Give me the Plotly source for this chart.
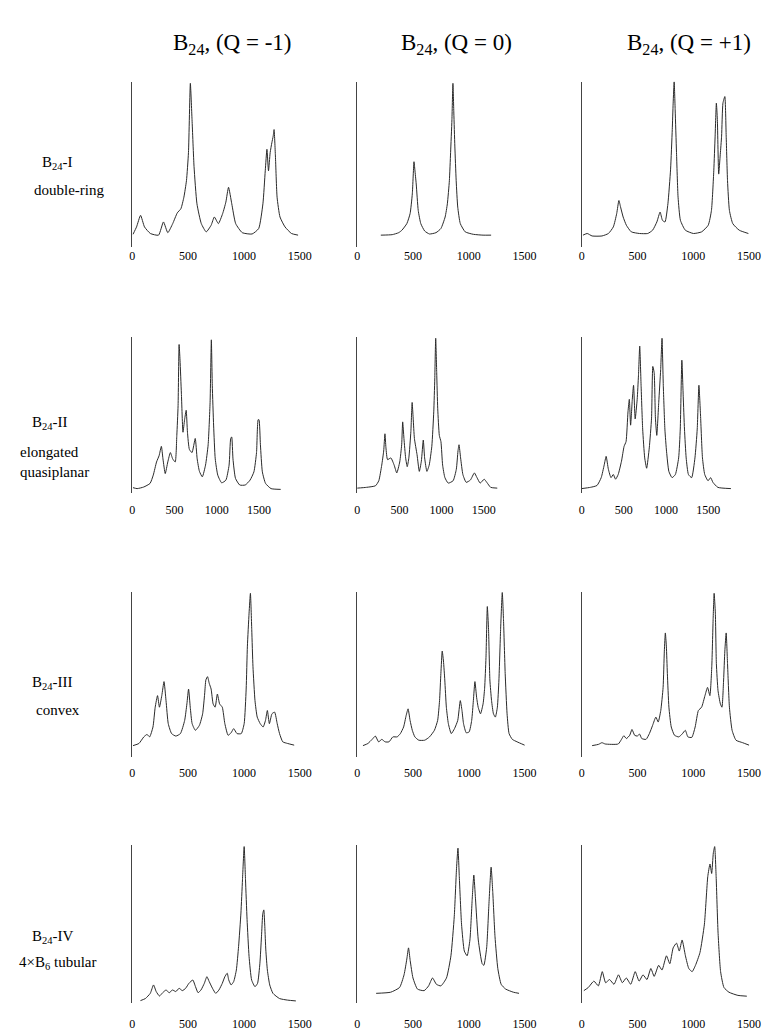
import plotly.graph_objects as go

# ---------------- data (wavenumber, relative intensity) ----------------
r1c1_x = [6, 38, 74, 109, 162, 235, 279, 318, 362, 403, 435, 462, 485, 503, 520, 535, 553, 579, 618, 662, 706, 735, 771, 809, 838, 862, 891, 926, 985, 1073, 1132, 1170, 1191, 1206, 1220, 1235, 1250, 1262, 1270, 1282, 1297, 1323, 1368, 1426, 1485]
r1c1_y = [0.075, 0.12, 0.19, 0.12, 0.08, 0.07, 0.15, 0.085, 0.14, 0.205, 0.23, 0.30, 0.40, 0.57, 0.99, 0.77, 0.485, 0.26, 0.14, 0.09, 0.13, 0.18, 0.14, 0.20, 0.27, 0.36, 0.26, 0.14, 0.085, 0.077, 0.11, 0.26, 0.46, 0.59, 0.46, 0.57, 0.63, 0.67, 0.71, 0.55, 0.30, 0.18, 0.12, 0.08, 0.07]

r1c2_x = [212, 314, 372, 401, 445, 474, 494, 509, 517, 529, 547, 570, 605, 648, 706, 750, 788, 808, 826, 837, 849, 858, 866, 875, 887, 901, 924, 968, 1041, 1128, 1200]
r1c2_y = [0.07, 0.073, 0.085, 0.10, 0.14, 0.20, 0.32, 0.515, 0.465, 0.38, 0.22, 0.14, 0.095, 0.077, 0.085, 0.11, 0.18, 0.26, 0.40, 0.57, 0.77, 0.99, 0.81, 0.61, 0.40, 0.24, 0.14, 0.09, 0.075, 0.07, 0.07]

r1c3_x = [12, 50, 94, 182, 240, 284, 314, 334, 349, 372, 401, 445, 519, 592, 636, 674, 703, 724, 747, 773, 797, 812, 820, 829, 838, 850, 864, 885, 929, 1002, 1075, 1134, 1163, 1184, 1196, 1207, 1216, 1228, 1242, 1254, 1266, 1283, 1295, 1307, 1324, 1354, 1412, 1494]
r1c3_y = [0.07, 0.08, 0.065, 0.065, 0.08, 0.12, 0.20, 0.28, 0.24, 0.18, 0.13, 0.09, 0.08, 0.08, 0.10, 0.15, 0.21, 0.16, 0.15, 0.26, 0.47, 0.71, 0.87, 1.0, 0.83, 0.57, 0.30, 0.16, 0.10, 0.08, 0.09, 0.13, 0.22, 0.46, 0.67, 0.87, 0.77, 0.44, 0.56, 0.67, 0.87, 0.91, 0.67, 0.40, 0.22, 0.14, 0.10, 0.08]

r2c1_x = [8, 57, 134, 210, 248, 287, 317, 344, 363, 390, 420, 451, 478, 508, 527, 542, 554, 565, 581, 600, 619, 638, 653, 676, 707, 745, 768, 795, 829, 867, 898, 921, 936, 947, 963, 982, 1012, 1058, 1108, 1146, 1165, 1177, 1192, 1222, 1272, 1337, 1394, 1440, 1471, 1490, 1500, 1517, 1540, 1578, 1643, 1757]
r2c1_y = [0.036, 0.03, 0.04, 0.063, 0.116, 0.20, 0.24, 0.30, 0.22, 0.126, 0.20, 0.26, 0.22, 0.20, 0.37, 0.56, 0.95, 0.85, 0.64, 0.39, 0.47, 0.53, 0.39, 0.28, 0.26, 0.35, 0.22, 0.14, 0.105, 0.18, 0.31, 0.58, 0.98, 0.69, 0.43, 0.22, 0.116, 0.067, 0.084, 0.18, 0.35, 0.36, 0.22, 0.095, 0.053, 0.053, 0.084, 0.137, 0.26, 0.47, 0.47, 0.31, 0.137, 0.063, 0.03, 0.025]

r2c2_x = [0, 109, 217, 256, 291, 314, 329, 341, 360, 399, 438, 469, 504, 527, 539, 554, 574, 593, 612, 636, 651, 663, 678, 709, 736, 760, 783, 799, 826, 853, 884, 907, 919, 930, 942, 954, 973, 992, 1012, 1039, 1078, 1136, 1174, 1194, 1206, 1225, 1252, 1291, 1341, 1388, 1419, 1457, 1504, 1535, 1581, 1659]
r2c2_y = [0.033, 0.038, 0.048, 0.08, 0.18, 0.27, 0.38, 0.29, 0.215, 0.226, 0.18, 0.13, 0.20, 0.31, 0.456, 0.35, 0.226, 0.17, 0.226, 0.395, 0.58, 0.48, 0.35, 0.247, 0.14, 0.205, 0.34, 0.226, 0.14, 0.18, 0.30, 0.52, 0.73, 0.99, 0.77, 0.54, 0.37, 0.33, 0.18, 0.10, 0.065, 0.08, 0.153, 0.27, 0.31, 0.226, 0.12, 0.07, 0.085, 0.13, 0.10, 0.065, 0.09, 0.07, 0.038, 0.033]

r2c3_x = [0, 104, 182, 232, 267, 290, 317, 348, 375, 402, 433, 472, 503, 526, 549, 565, 580, 600, 615, 634, 658, 673, 688, 704, 723, 747, 770, 801, 828, 843, 859, 874, 890, 913, 936, 952, 967, 986, 1006, 1033, 1071, 1110, 1149, 1168, 1187, 1203, 1218, 1238, 1265, 1303, 1342, 1369, 1389, 1408, 1431, 1458, 1497, 1528, 1555, 1613, 1768]
r2c3_y = [0.03, 0.038, 0.05, 0.10, 0.18, 0.236, 0.153, 0.10, 0.12, 0.09, 0.12, 0.205, 0.30, 0.33, 0.52, 0.60, 0.435, 0.60, 0.69, 0.475, 0.60, 0.75, 0.94, 0.69, 0.41, 0.226, 0.16, 0.29, 0.48, 0.81, 0.77, 0.48, 0.37, 0.58, 0.79, 0.99, 0.69, 0.41, 0.265, 0.14, 0.10, 0.12, 0.226, 0.41, 0.85, 0.62, 0.41, 0.226, 0.12, 0.10, 0.226, 0.41, 0.69, 0.50, 0.226, 0.12, 0.08, 0.10, 0.07, 0.038, 0.03]

r3c1_x = [6, 59, 103, 132, 155, 185, 205, 226, 243, 264, 284, 302, 322, 352, 390, 431, 469, 489, 504, 519, 536, 565, 601, 630, 648, 659, 674, 689, 706, 724, 742, 762, 782, 806, 829, 858, 885, 908, 938, 976, 1002, 1020, 1031, 1046, 1058, 1070, 1081, 1099, 1119, 1146, 1172, 1193, 1210, 1228, 1251, 1275, 1298, 1319, 1348, 1392, 1450]
r3c1_y = [0.067, 0.08, 0.12, 0.135, 0.12, 0.18, 0.30, 0.37, 0.30, 0.37, 0.455, 0.34, 0.20, 0.14, 0.125, 0.14, 0.22, 0.32, 0.41, 0.30, 0.20, 0.16, 0.19, 0.26, 0.38, 0.465, 0.485, 0.445, 0.41, 0.32, 0.30, 0.38, 0.32, 0.30, 0.20, 0.13, 0.145, 0.17, 0.14, 0.14, 0.20, 0.41, 0.67, 0.87, 0.99, 0.77, 0.545, 0.34, 0.24, 0.20, 0.18, 0.22, 0.28, 0.20, 0.26, 0.27, 0.20, 0.14, 0.09, 0.08, 0.07]

r3c2_x = [52, 96, 134, 163, 192, 221, 250, 285, 320, 358, 387, 416, 439, 456, 474, 494, 517, 552, 605, 648, 692, 721, 738, 750, 762, 773, 785, 799, 817, 843, 872, 901, 924, 939, 953, 977, 1003, 1026, 1041, 1055, 1070, 1084, 1105, 1128, 1142, 1154, 1166, 1177, 1189, 1204, 1221, 1238, 1256, 1270, 1285, 1300, 1311, 1326, 1343, 1361, 1390, 1433, 1500]
r3c2_y = [0.067, 0.08, 0.105, 0.125, 0.09, 0.105, 0.09, 0.09, 0.12, 0.12, 0.14, 0.18, 0.25, 0.29, 0.22, 0.16, 0.12, 0.10, 0.10, 0.12, 0.16, 0.22, 0.34, 0.505, 0.64, 0.58, 0.465, 0.30, 0.20, 0.14, 0.17, 0.22, 0.34, 0.28, 0.20, 0.145, 0.15, 0.22, 0.34, 0.455, 0.36, 0.30, 0.26, 0.32, 0.415, 0.60, 0.91, 0.77, 0.465, 0.34, 0.26, 0.24, 0.30, 0.465, 0.77, 0.995, 0.83, 0.505, 0.26, 0.14, 0.105, 0.09, 0.07]

r3c3_x = [94, 152, 182, 211, 328, 357, 378, 401, 431, 451, 475, 498, 519, 539, 577, 607, 636, 665, 686, 709, 730, 741, 750, 759, 768, 782, 803, 832, 870, 900, 929, 952, 987, 1017, 1046, 1075, 1105, 1128, 1149, 1166, 1178, 1187, 1198, 1207, 1222, 1243, 1257, 1272, 1283, 1295, 1307, 1324, 1348, 1383, 1442, 1500]
r3c3_y = [0.067, 0.075, 0.085, 0.077, 0.077, 0.105, 0.127, 0.11, 0.13, 0.165, 0.13, 0.125, 0.137, 0.11, 0.105, 0.14, 0.19, 0.24, 0.21, 0.28, 0.42, 0.64, 0.75, 0.67, 0.505, 0.30, 0.18, 0.13, 0.12, 0.137, 0.16, 0.12, 0.117, 0.18, 0.28, 0.30, 0.37, 0.42, 0.37, 0.545, 0.83, 0.99, 0.87, 0.565, 0.40, 0.32, 0.30, 0.465, 0.64, 0.75, 0.565, 0.30, 0.16, 0.10, 0.085, 0.07]

r4c1_x = [73, 117, 161, 190, 214, 243, 272, 302, 331, 360, 390, 419, 448, 478, 507, 542, 566, 589, 615, 645, 668, 689, 718, 747, 776, 806, 829, 850, 864, 885, 908, 932, 952, 973, 987, 1002, 1014, 1028, 1046, 1069, 1099, 1122, 1143, 1157, 1169, 1178, 1187, 1196, 1210, 1231, 1260, 1319, 1392, 1465]
r4c1_y = [0.017, 0.03, 0.063, 0.116, 0.074, 0.046, 0.067, 0.084, 0.067, 0.084, 0.074, 0.095, 0.08, 0.095, 0.126, 0.147, 0.105, 0.067, 0.084, 0.126, 0.168, 0.137, 0.095, 0.063, 0.084, 0.126, 0.168, 0.19, 0.147, 0.116, 0.137, 0.21, 0.358, 0.57, 0.78, 0.99, 0.78, 0.53, 0.295, 0.147, 0.105, 0.126, 0.253, 0.42, 0.568, 0.59, 0.484, 0.337, 0.21, 0.116, 0.063, 0.03, 0.02, 0.015]

r4c2_x = [170, 300, 380, 420, 445, 460, 475, 500, 540, 600, 640, 675, 710, 750, 800, 840, 870, 890, 903, 915, 935, 960, 985, 1010, 1030, 1045, 1060, 1085, 1120, 1135, 1160, 1180, 1200, 1215, 1235, 1260, 1290, 1330, 1400, 1450]
r4c2_y = [0.063, 0.07, 0.10, 0.18, 0.28, 0.35, 0.27, 0.16, 0.09, 0.08, 0.11, 0.16, 0.12, 0.11, 0.16, 0.30, 0.55, 0.85, 0.98, 0.80, 0.50, 0.33, 0.30, 0.40, 0.65, 0.81, 0.66, 0.40, 0.25, 0.24, 0.35, 0.62, 0.86, 0.70, 0.42, 0.22, 0.12, 0.09, 0.07, 0.063]

r4c3_x = [20, 60, 110, 150, 185, 215, 250, 290, 330, 365, 400, 440, 480, 515, 550, 585, 620, 650, 690, 720, 760, 790, 820, 850, 875, 900, 930, 960, 990, 1020, 1060, 1100, 1130, 1150, 1165, 1180, 1192, 1205, 1222, 1245, 1275, 1320, 1400, 1480]
r4c3_y = [0.08, 0.10, 0.14, 0.11, 0.20, 0.13, 0.15, 0.12, 0.18, 0.13, 0.16, 0.12, 0.20, 0.14, 0.18, 0.15, 0.22, 0.17, 0.24, 0.21, 0.30, 0.25, 0.35, 0.38, 0.33, 0.40, 0.30, 0.22, 0.20, 0.24, 0.32, 0.50, 0.80, 0.88, 0.82, 0.95, 0.99, 0.80, 0.45, 0.20, 0.10, 0.07, 0.05, 0.045]

col_titles = ["B<sub>24</sub>, (Q = -1)", "B<sub>24</sub>, (Q = 0)", "B<sub>24</sub>, (Q = +1)"]
row_labels = [
    ["B<sub>24</sub>-I", "double-ring"],
    ["B<sub>24</sub>-II", "elongated", "quasiplanar"],
    ["B<sub>24</sub>-III", "convex"],
    ["B<sub>24</sub>-IV", "4×B<sub>6</sub> tubular"],
]
tick_vals = [0, 500, 1000, 1500]
tick_text = ["0", "500", "1000", "1500"]
row_xmax = [1513, 2000, 1513, 1513]

panels = [
    [(r1c1_x, r1c1_y), (r1c2_x, r1c2_y), (r1c3_x, r1c3_y)],
    [(r2c1_x, r2c1_y), (r2c2_x, r2c2_y), (r2c3_x, r2c3_y)],
    [(r3c1_x, r3c1_y), (r3c2_x, r3c2_y), (r3c3_x, r3c3_y)],
    [(r4c1_x, r4c1_y), (r4c2_x, r4c2_y), (r4c3_x, r4c3_y)],
]

# ---------------- layout geometry (pixels) ----------------
W, H = 773, 1031
col_left = [131.7, 360.7, 589.3]
panel_w = 172
row_top = [81.7, 336.7, 591.7, 845.0]
row_bot = [246.7, 493.3, 756.7, 1003.3]
row_standoff = [0, 8, 7, 12]

SERIF = "Liberation Serif, DejaVu Serif, serif"

fig = go.Figure()
layout = dict(
    width=W, height=H,
    margin=dict(l=0, r=0, t=0, b=0),
    paper_bgcolor="white", plot_bgcolor="white",
    showlegend=False,
)

k = 0
for r in range(4):
    for c in range(3):
        k += 1
        xs, ys = panels[r][c]
        xa = "x" if k == 1 else f"x{k}"
        ya = "y" if k == 1 else f"y{k}"
        fig.add_trace(go.Scatter(
            x=xs, y=ys, mode="lines",
            line=dict(color="#2a2a2a", width=1, shape="spline", smoothing=0.5),
            xaxis=xa, yaxis=ya, hoverinfo="skip",
        ))
        xd = [col_left[c] / W, (col_left[c] + panel_w) / W]
        yd = [1 - row_bot[r] / H, 1 - row_top[r] / H]
        kx = "xaxis" if k == 1 else f"xaxis{k}"
        ky = "yaxis" if k == 1 else f"yaxis{k}"
        layout[kx] = dict(
            domain=xd, anchor=ya, range=[0, row_xmax[r]],
            showline=False, showgrid=False, zeroline=False,
            tickvals=tick_vals, ticktext=tick_text, ticks="",
            ticklabelstandoff=row_standoff[r],
            tickfont=dict(family=SERIF, size=12, color="black"),
        )
        layout[ky] = dict(
            domain=yd, anchor=xa, range=[0, 1.0],
            showline=True, linecolor="#444444", linewidth=1.3,
            showgrid=False, zeroline=False, showticklabels=False, ticks="",
        )

annotations = []
title_cx = [234, 462, 699]
for c in range(3):
    annotations.append(dict(
        text=col_titles[c], x=title_cx[c] / W, y=1 - 44 / H,
        xref="paper", yref="paper", showarrow=False,
        xanchor="center", yanchor="middle",
        font=dict(family=SERIF, size=23, color="black"),
    ))

label_pos = [
    [(38, 163), (30, 190)],
    [(28, 423), (15, 452), (15, 472)],
    [(28, 683), (32, 710)],
    [(28, 937), (14, 963)],
]
for r in range(4):
    for t, (px, py) in zip(row_labels[r], label_pos[r]):
        annotations.append(dict(
            text=t, x=px / W, y=1 - py / H,
            xref="paper", yref="paper", showarrow=False,
            xanchor="left", yanchor="middle",
            font=dict(family=SERIF, size=15, color="black"),
        ))

layout["annotations"] = annotations
fig.update_layout(**layout)
fig.write_html("out.html")
